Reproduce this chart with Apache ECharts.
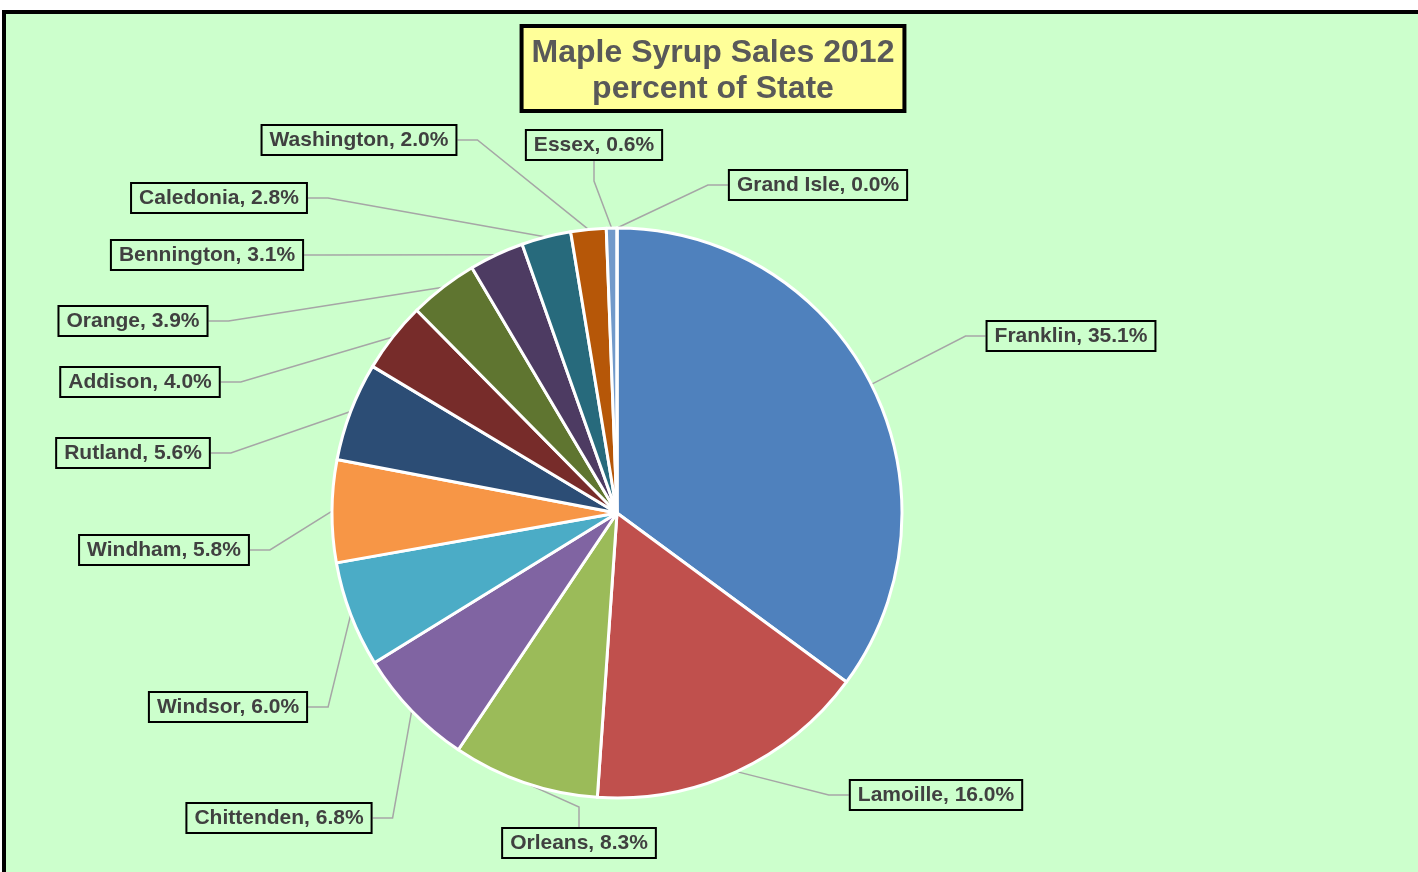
<!DOCTYPE html>
<html>
<head>
<meta charset="utf-8">
<script src="https://cdn.jsdelivr.net/npm/echarts@6/dist/echarts.min.js"></script>
<style>
html,body{margin:0;padding:0;background:#fff;}
#chart{width:1418px;height:872px;}
</style>
</head>
<body>
<div id="chart"></div>
<script>
// Data
const counties = ['Franklin','Lamoille','Orleans','Chittenden','Windsor','Windham','Rutland','Addison','Orange','Bennington','Caledonia','Washington','Essex','Grand Isle'];
const percents = [35.1,16.0,8.3,6.8,6.0,5.8,5.6,4.0,3.9,3.1,2.8,2.0,0.6,0.0];
const sliceColors = ['#4F81BD','#C0504D','#9BBB59','#8064A2','#4BACC6','#F79646','#2C4D75','#772C2A','#5F7530','#4D3B62','#276A7C','#B65708','#729ACA','#AFC97A'];
const titleText = 'Maple Syrup Sales 2012\npercent of State';
// Label box centres (layout only)
const labelCenters = [[1071,336],[936,795],[579,843],[279,818],[228,707],[164,550],[133,453],[140,382],[133,321],[207,255],[219,198],[359,140],[594,145],[818,185]];

const chart = echarts.init(document.getElementById('chart'), null, {renderer:'canvas'});
const FONT = 'Liberation Sans';
const option = {
  backgroundColor: '#ffffff',
  animation: false,
  graphic: [{
    type: 'rect', z: -10, silent: true,
    shape: {x: 4, y: 12, width: 1600, height: 1000},
    style: {fill: '#CCFFCC', stroke: '#000', lineWidth: 4}
  }, {
    type: 'text', silent: true, z: 10,
    x: 713, y: 28,
    style: {
      text: titleText,
      align: 'center', verticalAlign: 'top',
      font: 'bold 32px "Liberation Sans"',
      fill: '#595959',
      lineHeight: 36,
      backgroundColor: '#FFFF99',
      borderColor: '#000', borderWidth: 4,
      padding: [7, 8, 2, 8]
    }
  }],
  series: [{
    type: 'pie',
    center: [617, 513],
    radius: [0, 285],
    startAngle: 90,
    clockwise: true,
    avoidLabelOverlap: false,
    itemStyle: {borderColor: '#fff', borderWidth: 3},
    label: {
      show: true,
      position: 'outside',
      formatter: p => p.name + ', ' + p.value.toFixed(1) + '%',
      fontFamily: FONT, fontWeight: 'bold', fontSize: 21, lineHeight: 21,
      color: '#404040',
      borderColor: '#000', borderWidth: 2,
      padding: [5, 8, 4, 8]
    },
    labelLine: {
      show: true, length: 20, length2: 20,
      lineStyle: {color: '#A6A6A6', width: 1.5}
    },
    labelLayout: function (params) {
      const c = labelCenters[params.dataIndex];
      return {x: c[0], y: c[1], align: 'center', verticalAlign: 'middle', moveOverlap: false};
    },
    data: counties.map((n, i) => ({name: n, value: percents[i], itemStyle: {color: sliceColors[i]}}))
  }]
};
chart.setOption(option);
</script>
</body>
</html>
